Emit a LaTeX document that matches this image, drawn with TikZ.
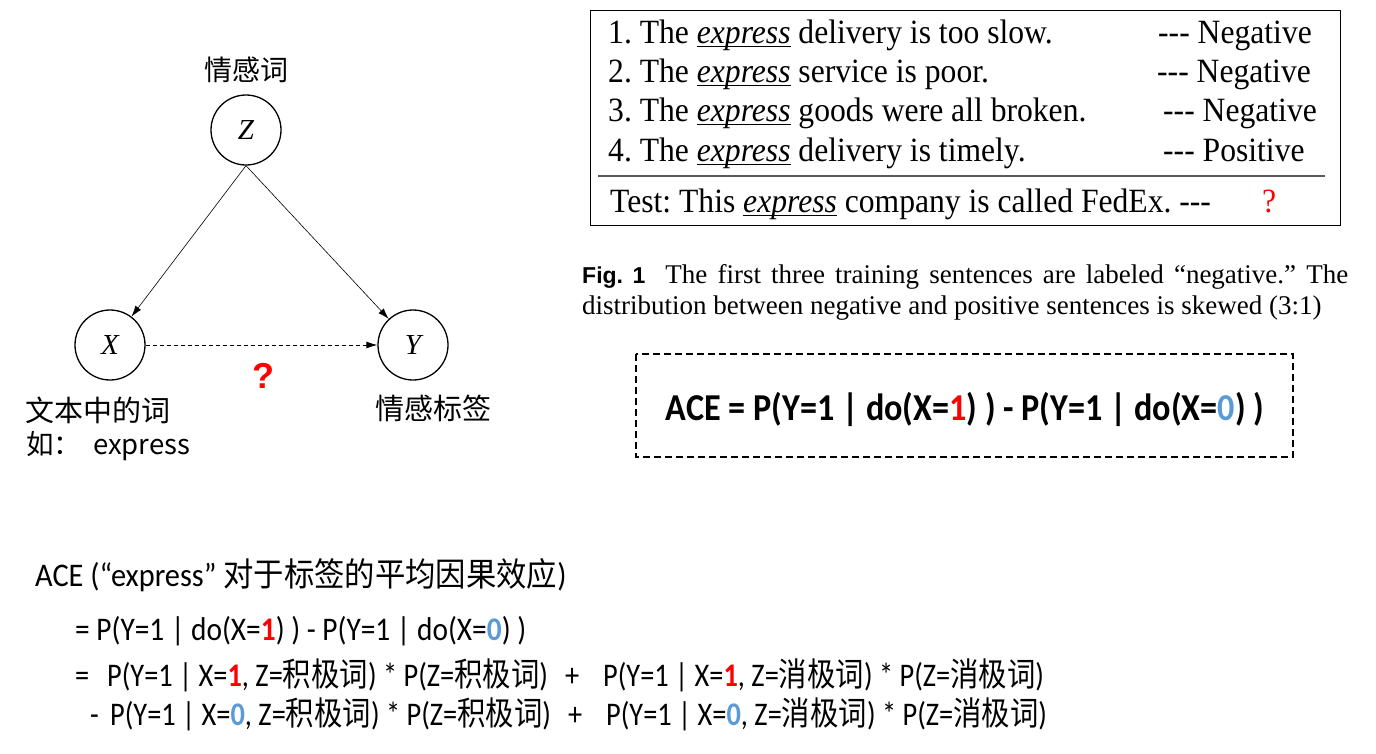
\documentclass[tikz,border=0pt]{standalone}
\usepackage{fontspec}
\usepackage{graphicx}
\setmainfont{Carlito}
\newfontfamily\cjk{Noto Sans CJK SC}
\newfontfamily\tnr{Liberation Serif}
\newfontfamily\ars{Liberation Sans}
\usetikzlibrary{arrows.meta}
\definecolor{myred}{RGB}{255,0,0}
\definecolor{myblue}{RGB}{91,155,213}
\newcommand\zh[1]{{\cjk #1}}
\newcommand\one{\textcolor{myred}{\textbf{1}}}
\newcommand\zero{\textcolor{myblue}{\textbf{0}}}
\newcommand\ex{\setbox0\hbox{\textit{express}}\rlap{\rule[-4pt]{\wd0}{1.1pt}}\box0}
\newcommand\sx[2]{\scalebox{#1}[1]{#2}}
\frenchspacing
\tikzset{
  var/.style={circle, draw, line width=1.3pt, minimum size=70pt, inner sep=0pt, font=\tnr\itshape\fontsize{29}{30}\selectfont},
  arr/.style={-{Latex[length=11pt,width=7pt]}, line width=0.6pt},
  txt/.style={inner sep=0pt, anchor=base west},
  zhlab/.style={inner sep=0pt, anchor=west, font=\cjk\fontsize{29}{32}\selectfont},
  sent/.style={txt, font=\tnr\fontsize{34}{36}\selectfont},
  captxt/.style={txt, font=\tnr\fontsize{27}{30}\selectfont},
  formula/.style={txt, font=\fontsize{33}{36}\selectfont},
}
\begin{document}
\begin{tikzpicture}[x=1pt,y=-1pt]
\useasboundingbox (0,0) rectangle (1376,753);
% causal graph
\node[var] (Z) at (246,130) {Z};
\node[var] (X) at (110,345) {X};
\node[var] (Y) at (413,345) {Y};
\draw[arr] (Z.south) -- (X);
\draw[arr] (Z.south) -- (Y);
\draw[arr, line width=0.8pt, dash pattern=on 4pt off 3pt] (X) -- (Y);
\node[inner sep=0pt, font=\ars\bfseries\fontsize{36}{38}\selectfont, text=myred] (q) at (263,376) {?};
\node[zhlab, anchor=center, font=\cjk\fontsize{28}{32}\selectfont] (lz) at (246,70) {情感词};
\node[zhlab] (lx) at (25,410) {文本中的词};
\node[zhlab, font=\cjk\fontsize{27.5}{30}\selectfont] (lx2) at (26,446) {如：\hspace{12pt}express};
\node[zhlab] (ly) at (375,408) {情感标签};
% example box
\draw[line width=0.8pt] (590,10) rectangle (1340,225);
\draw[line width=1.4pt, gray!70!black] (598,176) -- (1325,176);
\node[sent] (s1) at (608,43) {\sx{0.93}{1. The \ex{} delivery is too slow.}};
\node[sent] (s2) at (608,82) {\sx{0.93}{2. The \ex{} service is poor.}};
\node[sent] (s3) at (608,121) {\sx{0.93}{3. The \ex{} goods were all broken.}};
\node[sent] (s4) at (608,161) {\sx{0.93}{4. The \ex{} delivery is timely.}};
\node[sent] (l1) at (1158,43) {\sx{0.93}{-{}-{}- Negative}};
\node[sent] (l2) at (1157,82) {\sx{0.93}{-{}-{}- Negative}};
\node[sent] (l3) at (1163,121) {\sx{0.93}{-{}-{}- Negative}};
\node[sent] (l4) at (1163,161) {\sx{0.93}{-{}-{}- Positive}};
\node[sent] (t) at (610,212) {\sx{0.93}{Test: This \ex{} company is called FedEx. -{}-{}-}};
\node[sent, text=myred] (tq) at (1262,212) {\sx{0.93}{?}};
% caption
\node[captxt] (c1) at (582,283) {\makebox[766pt][s]{{\ars\bfseries\fontsize{23}{26}\selectfont Fig. 1}\hspace{20pt}The first three training sentences are labeled “negative.” The}};
\node[captxt] (c2) at (582,314) {\sx{1.0}{distribution between negative and positive sentences is skewed (3:1)}};
% ACE box
\draw[line width=1.4pt, dash pattern=on 7pt off 4pt] (636,354) rectangle (1293,457);
\node[inner sep=0pt, anchor=base, font=\bfseries\fontsize{38}{40}\selectfont] (ace) at (965,420) {\sx{0.9}{ACE = P(Y=1 | do(X=\one) ) - P(Y=1 | do(X=\zero) )}};
% bottom formulas
\node[formula] (f0) at (35,586) {\sx{0.92}{ACE (“express” \zh{对于标签的平均因果效应})}};
\node[formula] (f1) at (75,640) {\sx{0.89}{= P(Y=1 | do(X=\one) ) - P(Y=1 | do(X=\zero) )}};
\node[formula] (f2a) at (75,686) {\sx{0.86}{=}};
\node[formula] (f2b) at (107,686) {\sx{0.86}{P(Y=1 | X=\one, Z=\zh{积极词}) * P(Z=\zh{积极词})}};
\node[formula] (f2c) at (565,686) {\sx{0.86}{+}};
\node[formula] (f2d) at (603,686) {\sx{0.86}{P(Y=1 | X=\one, Z=\zh{消极词}) * P(Z=\zh{消极词})}};
\node[formula] (f3a) at (90,725) {\sx{0.86}{-}};
\node[formula] (f3b) at (110,725) {\sx{0.86}{P(Y=1 | X=\zero, Z=\zh{积极词}) * P(Z=\zh{积极词})}};
\node[formula] (f3c) at (568,725) {\sx{0.86}{+}};
\node[formula] (f3d) at (606,725) {\sx{0.86}{P(Y=1 | X=\zero, Z=\zh{消极词}) * P(Z=\zh{消极词})}};
\end{tikzpicture}
\end{document}
